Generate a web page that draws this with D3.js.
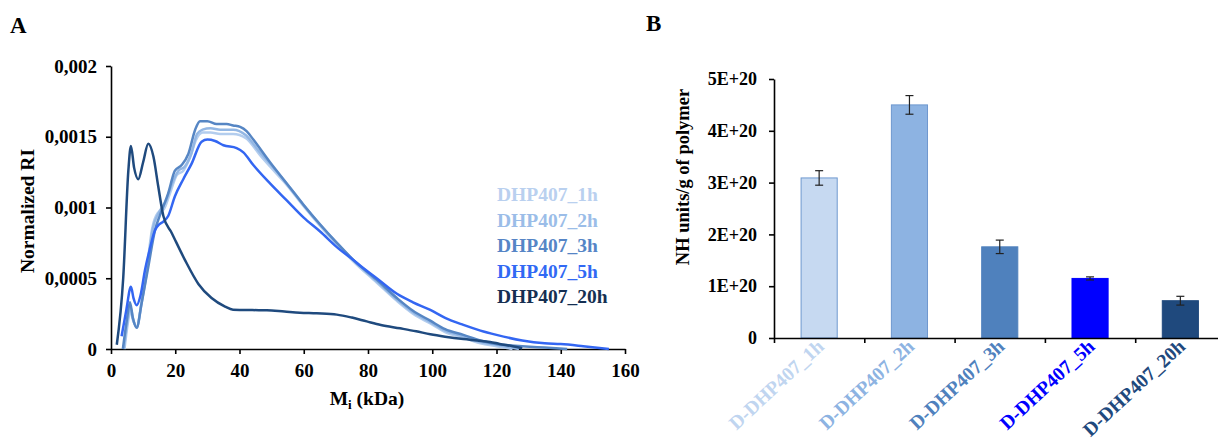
<!DOCTYPE html>
<html>
<head>
<meta charset="utf-8">
<script src="https://cdn.jsdelivr.net/npm/d3@7"></script>
<style>
  html, body { margin: 0; padding: 0; background: #fff; }
  svg { display: block; }
  text { font-family: "Liberation Serif", "Times New Roman", serif; font-weight: bold; }
</style>
</head>
<body>
<svg id="fig" width="1218" height="442"></svg>
<script>
// ---- panel A data: [Mi in kDa, normalized RI] ----
const dhp1h = [[4.2,0],[5.1,0.00016],[6,0.00027],[6.9,0.0002],[8,0.00016],[9.5,0.00033],[11.2,0.00058],[12.8,0.00085],[14.5,0.00096],[16.5,0.00099],[18.5,0.00111],[20.5,0.00123],[22.5,0.00126],[24.5,0.00135],[26.5,0.00148],[28.5,0.00153],[31,0.00153],[34,0.00152],[38,0.00152],[42,0.00149],[46.4,0.00137],[49.5,0.00129],[54.7,0.00116],[59.9,0.00101],[65.1,0.00087],[70.3,0.00074],[75.4,0.00062],[82.7,0.00047],[89,0.00034],[94,0.00025],[99.4,0.00018],[104,0.00012],[109.7,0.00008],[115,0.00004],[120,0.00002],[125,0]];
const dhp2h = [[4,0],[5,0.00018],[6,0.0003],[6.9,0.00021],[8,0.00015],[9.5,0.00032],[11.4,0.00058],[13,0.00085],[14.8,0.00096],[17,0.00104],[19,0.00117],[21,0.00126],[23,0.00129],[25,0.00138],[26.8,0.00152],[28.5,0.00155],[31,0.00156],[34,0.00155],[38,0.00155],[42,0.00151],[46,0.0014],[49.5,0.00131],[54.7,0.00117],[59.9,0.00102],[65.1,0.00088],[70.3,0.00075],[75.4,0.00063],[82.7,0.00048],[89,0.00035],[94,0.00026],[99.4,0.00019],[104,0.00013],[109.7,0.00009],[115,0.00005],[120,0.00003],[127,0]];
const dhp3h = [[3.7,0],[4.9,0.0002],[5.9,0.00033],[6.8,0.00022],[8,0.00015],[9.5,0.00032],[11.6,0.00058],[13.7,0.00084],[15.3,0.00095],[17.8,0.0011],[19.9,0.00126],[22,0.0013],[24.1,0.00138],[26.2,0.00155],[27.7,0.00161],[30,0.00161],[32.9,0.00159],[36,0.00159],[38,0.00158],[40.2,0.00157],[42.2,0.00154],[44.3,0.00148],[49.5,0.00132],[54.7,0.00117],[59.9,0.00102],[65.1,0.00088],[70.3,0.00075],[75.4,0.00063],[82.7,0.00049],[89,0.00036],[94,0.00027],[99.4,0.0002],[104,0.00014],[109.7,0.0001],[115,0.00006],[120,0.000035],[128,0.00002],[135,0.00001],[142,0]];
const dhp5h = [[3.3,0.00009],[4.8,0.00028],[6.2,0.00044],[7,0.00036],[8,0.00031],[9.2,0.00038],[10.6,0.00056],[12,0.0007],[13.7,0.00084],[15,0.00088],[16.3,0.0009],[17.8,0.00094],[19.9,0.00108],[22.5,0.0012],[25.1,0.00131],[28.2,0.001465],[30,0.00148],[32.4,0.00147],[35,0.00144],[39.1,0.00142],[41.2,0.00139],[44.3,0.0013],[49.5,0.00117],[54.7,0.00105],[59.9,0.00093],[65.1,0.00083],[70.3,0.00072],[75.4,0.00063],[78.6,0.00057],[82.7,0.0005],[89,0.00039],[94,0.00033],[99.4,0.000276],[104,0.00022],[109.7,0.00017],[115,0.00013],[120,0.0001],[128,0.00006],[135,0.00004],[140,0.000035],[147,0.00002],[155,0]];
const dhp20h = [[1.8,0.00003],[3.8,0.0005],[5.4,0.00126],[6.2,0.001435],[7.2,0.00128],[8.5,0.0012],[10,0.00132],[11.6,0.00145],[13.2,0.00136],[14.7,0.00115],[16.3,0.00094],[18.9,0.00082],[23,0.00063],[27.2,0.00046],[31.3,0.00036],[35.5,0.0003],[38,0.000278],[44,0.000275],[48.5,0.000274],[54,0.000265],[58.8,0.000257],[64,0.000252],[70.3,0.000243],[75,0.000222],[79.6,0.000195],[84,0.00017],[90,0.000146],[95,0.000125],[99.4,0.000104],[104,0.000087],[109.7,0.00007],[114,0.00006],[118,0.00005],[121,0.000036],[125,0.00002],[128,0.000005]];

const seriesNamesA = ["DHP407_1h", "DHP407_2h", "DHP407_3h", "DHP407_5h", "DHP407_20h"];
const lineColorsA = ["#b3cdee", "#93b7e4", "#5686c4", "#3366f2", "#1f4a7e"];
const legendColorsA = ["#b9d0ef", "#9bbde8", "#5585c6", "#3169f4", "#152f52"];
const xTicksA = [0, 20, 40, 60, 80, 100, 120, 140, 160];
const yTicksA = [0, 0.0005, 0.001, 0.0015, 0.002];
const yTickLabelsA = ["0", "0,0005", "0,001", "0,0015", "0,002"];

// ---- panel B data ----
const categoriesB = ["D-DHP407_1h", "D-DHP407_2h", "D-DHP407_3h", "D-DHP407_5h", "D-DHP407_20h"];
const nhValues = [3.09e20, 4.50e20, 1.76e20, 1.15e20, 0.72e20];
const nhErrors = [0.14e20, 0.18e20, 0.13e20, 0.03e20, 0.085e20];
const barColorsB = ["#c6d9f1", "#8db3e2", "#4f81bd", "#0000ff", "#1f497d"];
const labelColorsB = ["#c0d5f0", "#8db3e2", "#4f81bd", "#0000ff", "#1f497d"];
const yTicksB = [0, 1e20, 2e20, 3e20, 4e20, 5e20];
const yTickLabelsB = ["0", "1E+20", "2E+20", "3E+20", "4E+20", "5E+20"];

const svg = d3.select("#fig");

// ================= panel A =================
const xA = d3.scaleLinear().domain([0, 160]).range([111, 625]);
const yA = d3.scaleLinear().domain([0, 0.002]).range([349, 66]);

const gA = svg.append("g");

gA.append("g")
    .attr("transform", `translate(0,${yA(0)})`)
    .call(d3.axisBottom(xA).tickValues(xTicksA).tickSize(5).tickPadding(10).tickSizeOuter(0))
    .call(g => g.selectAll("text").attr("font-size", 19).attr("fill", "#000").attr("font-family", null));

gA.append("g")
    .attr("transform", `translate(${xA(0)},0)`)
    .call(d3.axisLeft(yA).tickValues(yTicksA).tickFormat((d, i) => yTickLabelsA[i]).tickSize(5).tickPadding(9).tickSizeOuter(0))
    .call(g => g.selectAll("text").attr("font-size", 19).attr("fill", "#000").attr("font-family", null));

gA.selectAll(".domain, .tick line").attr("stroke", "#000").attr("stroke-width", 1.6);

const line = d3.line()
    .x(d => xA(d[0]))
    .y(d => yA(d[1]))
    .curve(d3.curveMonotoneX);

const curves = [dhp1h, dhp2h, dhp3h, dhp5h, dhp20h];
gA.selectAll("path.curve")
  .data(curves)
  .enter()
  .append("path")
    .attr("class", "curve")
    .attr("d", line)
    .attr("fill", "none")
    .attr("stroke", (d, i) => lineColorsA[i])
    .attr("stroke-width", 2.5)
    .attr("stroke-linejoin", "round");

// legend
gA.selectAll("text.legend")
  .data(seriesNamesA)
  .enter()
  .append("text")
    .attr("class", "legend")
    .attr("x", 497)
    .attr("y", (d, i) => 201 + i * 25.5)
    .attr("font-size", 19.5)
    .attr("fill", (d, i) => legendColorsA[i])
    .text(d => d);

// axis titles
gA.append("text")
    .attr("transform", "translate(34,211) rotate(-90)")
    .attr("text-anchor", "middle")
    .attr("font-size", 19.5)
    .text("Normalized RI");

const xt = gA.append("text")
    .attr("x", 367)
    .attr("y", 405)
    .attr("text-anchor", "middle")
    .attr("font-size", 19.5);
xt.append("tspan").text("M");
xt.append("tspan").attr("font-size", 13).attr("dy", 4).text("i");
xt.append("tspan").attr("dy", -4).text(" (kDa)");

svg.append("text").attr("x", 10).attr("y", 33).attr("font-size", 23).text("A");

// ================= panel B =================
const xB = d3.scaleBand()
    .domain(categoriesB)
    .range([774, 774 + 5 * 90.3])
    .paddingInner(0.6)
    .paddingOuter(0.3);
const yB = d3.scaleLinear().domain([0, 5e20]).range([338, 79]);
const boundsB = d3.scaleLinear().domain([0, 5]).range([774, 774 + 5 * 90.3]);

const gB = svg.append("g");

gB.selectAll("rect.bar")
  .data(nhValues)
  .enter()
  .append("rect")
    .attr("class", "bar")
    .attr("x", (d, i) => xB(categoriesB[i]))
    .attr("y", d => yB(d))
    .attr("width", xB.bandwidth())
    .attr("height", d => yB(0) - yB(d))
    .attr("fill", (d, i) => barColorsB[i])
    .attr("stroke", (d, i) => i < 2 ? "#6f98cf" : barColorsB[i])
    .attr("stroke-width", 1);

// error bars
const eb = gB.selectAll("g.err")
  .data(nhValues)
  .enter()
  .append("g")
    .attr("class", "err")
    .attr("stroke", "#222")
    .attr("stroke-width", 1.2);
eb.append("line")
    .attr("x1", (d, i) => xB(categoriesB[i]) + xB.bandwidth() / 2)
    .attr("x2", (d, i) => xB(categoriesB[i]) + xB.bandwidth() / 2)
    .attr("y1", (d, i) => yB(d - nhErrors[i]))
    .attr("y2", (d, i) => yB(d + nhErrors[i]));
[-1, 1].forEach(s => {
  eb.append("line")
      .attr("x1", (d, i) => xB(categoriesB[i]) + xB.bandwidth() / 2 - 4)
      .attr("x2", (d, i) => xB(categoriesB[i]) + xB.bandwidth() / 2 + 4)
      .attr("y1", (d, i) => yB(d + s * nhErrors[i]))
      .attr("y2", (d, i) => yB(d + s * nhErrors[i]));
});

gB.append("g")
    .attr("transform", `translate(0,${yB(0)})`)
    .call(d3.axisBottom(boundsB).tickValues([0, 1, 2, 3, 4]).tickFormat("").tickSize(5).tickSizeOuter(0));

gB.append("g")
    .attr("transform", "translate(774,0)")
    .call(d3.axisLeft(yB).tickValues(yTicksB).tickFormat((d, i) => yTickLabelsB[i]).tickSize(5).tickPadding(12).tickSizeOuter(0))
    .call(g => g.selectAll("text").attr("font-size", 18).attr("fill", "#000").attr("font-family", null));

gB.selectAll(".domain, .tick line").attr("stroke", "#000").attr("stroke-width", 1.6);

// rotated category labels
gB.selectAll("text.cat")
  .data(categoriesB)
  .enter()
  .append("text")
    .attr("class", "cat")
    .attr("transform", d => `translate(${xB(d) + xB.bandwidth() / 2 + 6},${yB(0) + 10}) rotate(-43)`)
    .attr("text-anchor", "end")
    .attr("font-size", 19.5)
    .attr("fill", (d, i) => labelColorsB[i])
    .text(d => d);

gB.append("text")
    .attr("transform", "translate(689,177) rotate(-90)")
    .attr("text-anchor", "middle")
    .attr("font-size", 18.5)
    .text("NH units/g of polymer");

svg.append("text").attr("x", 646).attr("y", 31).attr("font-size", 23).text("B");
</script>
</body>
</html>
